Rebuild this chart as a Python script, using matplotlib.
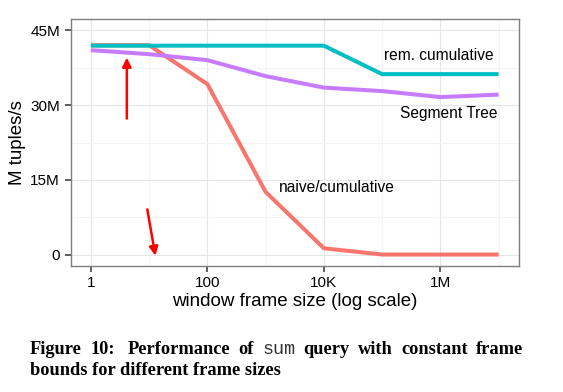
import matplotlib
matplotlib.use("Agg")
import matplotlib.pyplot as plt
from matplotlib.ticker import FixedLocator, FuncFormatter, NullFormatter

# window frame sizes and throughput (M tuples/s)
frame_sizes = [1, 10, 100, 1e3, 1e4, 1e5, 1e6, 1e7]
naive_cum = [42.0, 42.0, 34.2, 12.6, 1.3, 0.05, 0.05, 0.05]
rem_cum = [41.9, 41.9, 41.9, 41.9, 41.9, 36.2, 36.2, 36.2]
seg_tree = [41.0, 40.2, 39.0, 35.8, 33.5, 32.8, 31.6, 32.1]

x_ticks = [1, 100, 1e4, 1e6]
x_tick_labels = ["1", "100", "10K", "1M"]
y_ticks = [0, 15, 30, 45]
y_tick_labels = ["0", "15M", "30M", "45M"]

# red annotation arrows: (tail, tip) in data coords
arrows = [((4.14, 27.3), (4.14, 39.5)), ((9.3, 9.1), (12.8, -0.2))]

caption1 = ["Figure", "10:", "Performance", "of", "sum", "query", "with", "constant", "frame"]
caption2 = "bounds for different frame sizes"

W, H = 563, 392
fig = plt.figure(figsize=(W / 100, H / 100), dpi=100)
ax = fig.add_axes([70.5 / W, 1 - 266 / H, (519 - 70.5) / W, (266 - 19) / H])

sans = "Liberation Sans"
ax.plot(frame_sizes, naive_cum, color="#F8766D", lw=2.9, solid_capstyle="butt", solid_joinstyle="round")
ax.plot(frame_sizes, rem_cum, color="#00BFC4", lw=2.9, solid_capstyle="butt", solid_joinstyle="round")
ax.plot(frame_sizes, seg_tree, color="#C77CFF", lw=2.9, solid_capstyle="butt", solid_joinstyle="round")

ax.set_xscale("log")
ax.set_xlim(10 ** -0.35, 10 ** 7.35)
ax.set_ylim(-2.25, 47.25)

ax.xaxis.set_major_locator(FixedLocator(x_ticks))
ax.xaxis.set_major_formatter(FuncFormatter(lambda v, p: x_tick_labels[x_ticks.index(v)] if v in x_ticks else ""))
ax.xaxis.set_minor_locator(FixedLocator([10, 1e3, 1e5, 1e7]))
ax.xaxis.set_minor_formatter(NullFormatter())
ax.set_yticks(y_ticks)
ax.set_yticklabels(y_tick_labels)
ax.yaxis.set_minor_locator(FixedLocator([7.5, 22.5, 37.5]))
ax.yaxis.set_minor_formatter(NullFormatter())

ax.grid(which="major", color="#e5e5e5", lw=0.8)
ax.grid(which="minor", color="#f4f4f4", lw=0.8)
ax.set_axisbelow(True)
ax.tick_params(which="minor", length=0)
ax.tick_params(which="major", length=4.5, width=1.1, color="#333333", pad=3,
               labelsize=11, labelcolor="black")
for lab in ax.get_xticklabels() + ax.get_yticklabels():
    lab.set_family(sans)
for s in ax.spines.values():
    s.set_color("#7f7f7f")
    s.set_linewidth(1.0)

ax.set_xlabel("window frame size (log scale)", family=sans, fontsize=13.5, va="center")
ax.set_ylabel("M tuples/s", family=sans, fontsize=13.5, va="center")
ax.xaxis.set_label_coords(0.5, (266 - 301.5) / 247)
ax.yaxis.set_label_coords((18 - 70.5) / 448.5, 0.5)

ax.text(10 ** 6.91, 39.9, "rem. cumulative", family=sans, fontsize=11.2, ha="right", va="center")
ax.text(10 ** 6.98, 28.4, "Segment Tree", family=sans, fontsize=11.2, ha="right", va="center")
ax.text(10 ** 3.22, 13.4, "naive/cumulative", family=sans, fontsize=11.2, ha="left", va="center")

for tail, tip in arrows:
    ax.annotate("", xy=tip, xytext=tail,
                arrowprops=dict(arrowstyle="-|>", color="red", lw=1.8, mutation_scale=13,
                                shrinkA=0, shrinkB=0))

# justified two-line caption
cap_size = 13.2
y1 = 1 - 354 / H
y2 = 1 - 375 / H
texts = []
for w in caption1:
    if w == "sum":
        t = fig.text(0, y1, w, family="Liberation Mono", fontsize=cap_size, va="baseline", color="#333333")
    else:
        t = fig.text(0, y1, w, family="Liberation Serif", weight="bold", fontsize=cap_size, va="baseline")
    texts.append(t)
fig.text(30 / W, y2, caption2, family="Liberation Serif", weight="bold", fontsize=cap_size, va="baseline")

r = fig.canvas.get_renderer()
widths = [t.get_window_extent(r).width for t in texts]
weights = [1, 1.6, 1, 1, 1, 1, 1, 1]
gap = (523 - 30 - sum(widths)) / sum(weights)
x = 30
for i, t in enumerate(texts):
    t.set_x(x / W)
    if i < len(weights):
        x += widths[i] + gap * weights[i]

fig.savefig("out.png", dpi=100)
